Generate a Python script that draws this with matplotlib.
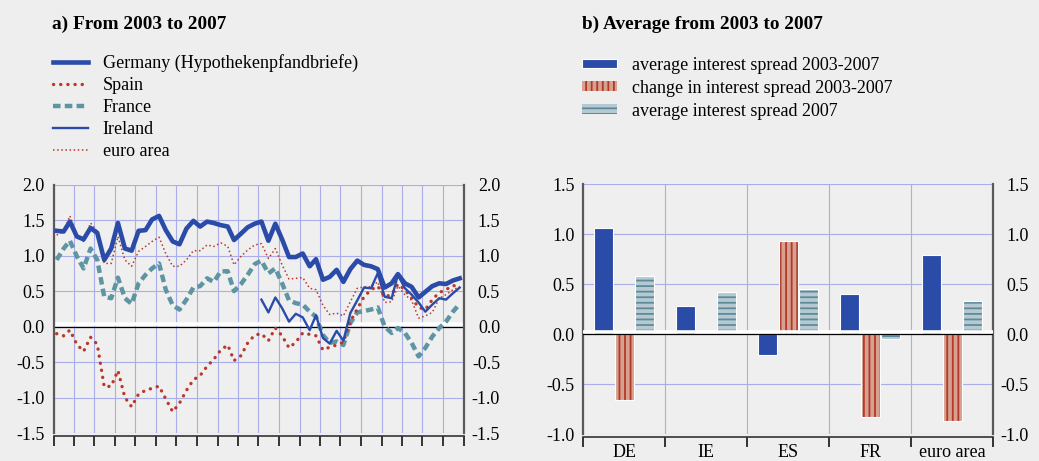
import numpy as np
import pandas as pd
import matplotlib
matplotlib.use("Agg")
import matplotlib.pyplot as plt
import matplotlib.dates as mdates
import matplotlib.transforms as mtransforms
from matplotlib.ticker import FixedLocator, NullFormatter, FixedFormatter

plt.rcParams['font.family'] = ['Liberation Serif', 'DejaVu Serif']
plt.rcParams['axes.unicode_minus'] = False
plt.rcParams['hatch.linewidth'] = 1.3

# ---------------------------------------------------------------- data
months = pd.date_range("2003-01-01", periods=60, freq="MS") + pd.Timedelta(days=14)

germany = [1.35, 1.34, 1.48, 1.27, 1.23, 1.39, 1.32, 0.94, 1.10, 1.46,
           1.10, 1.07, 1.35, 1.36, 1.51, 1.56, 1.36, 1.20, 1.16, 1.38,
           1.49, 1.41, 1.48, 1.46, 1.43, 1.41, 1.22, 1.31, 1.40, 1.45,
           1.48, 1.21, 1.45, 1.23, 0.98, 0.98, 1.03, 0.85, 0.95, 0.66,
           0.70, 0.80, 0.63, 0.81, 0.93, 0.87, 0.85, 0.81, 0.55, 0.61,
           0.74, 0.61, 0.56, 0.41, 0.49, 0.57, 0.61, 0.60, 0.65, 0.68]

spain = [-0.10, -0.13, -0.05, -0.25, -0.35, -0.15, -0.25, -0.85, -0.84, -0.62,
         -1.00, -1.13, -0.95, -0.90, -0.87, -0.84, -1.02, -1.20, -1.08, -0.90,
         -0.75, -0.69, -0.56, -0.46, -0.33, -0.26, -0.48, -0.41, -0.23, -0.12,
         -0.10, -0.20, -0.02, -0.13, -0.30, -0.22, -0.09, -0.11, -0.13, -0.33,
         -0.29, -0.26, -0.22, 0.07, 0.25, 0.42, 0.52, 0.57, 0.42, 0.45,
         0.60, 0.52, 0.40, 0.27, 0.24, 0.38, 0.48, 0.52, 0.58, 0.56]

france = [0.94, 1.10, 1.21, 0.99, 0.82, 1.10, 0.94, 0.42, 0.40, 0.69,
          0.40, 0.32, 0.61, 0.73, 0.82, 0.89, 0.52, 0.30, 0.24, 0.38,
          0.55, 0.57, 0.68, 0.63, 0.78, 0.78, 0.50, 0.60, 0.73, 0.88,
          0.93, 0.75, 0.82, 0.61, 0.37, 0.33, 0.31, 0.21, 0.14, -0.12,
          -0.23, -0.21, -0.26, 0.05, 0.20, 0.22, 0.24, 0.27, 0.00, -0.09,
          -0.02, -0.09, -0.23, -0.42, -0.30, -0.14, -0.02, 0.07, 0.21, 0.32]

ireland = [np.nan] * 30 + [
          0.38, 0.20, 0.41, 0.26, 0.07, 0.18, 0.13, -0.05, 0.16, -0.16,
          -0.24, -0.06, -0.20, 0.19, 0.37, 0.55, 0.54, 0.75, 0.42, 0.40,
          0.73, 0.54, 0.45, 0.34, 0.21, 0.31, 0.40, 0.38, 0.47, 0.55]

euro_area = [1.29, 1.34, 1.56, 1.29, 1.20, 1.46, 1.34, 0.89, 0.89, 1.27,
             0.94, 0.85, 1.06, 1.13, 1.20, 1.26, 1.03, 0.85, 0.85, 0.94,
             1.07, 1.07, 1.15, 1.13, 1.18, 1.13, 0.87, 0.99, 1.08, 1.15,
             1.17, 0.96, 1.10, 0.87, 0.67, 0.68, 0.69, 0.54, 0.52, 0.30,
             0.17, 0.19, 0.15, 0.35, 0.54, 0.56, 0.56, 0.63, 0.34, 0.35,
             0.57, 0.45, 0.37, 0.12, 0.15, 0.20, 0.40, 0.45, 0.52, 0.56]

categories = ["DE", "IE", "ES", "FR", "euro area"]
avg_spread_2003_2007 = [1.06, 0.28, -0.21, 0.40, 0.79]
change_spread_2003_2007 = [-0.66, 0.0, 0.93, -0.83, -0.87]
avg_spread_2007 = [0.58, 0.42, 0.45, -0.05, 0.33]

left_ticks = [-1.5, -1.0, -0.5, 0.0, 0.5, 1.0, 1.5, 2.0]
right_ticks = [-1.0, -0.5, 0.0, 0.5, 1.0, 1.5]

# ---------------------------------------------------------------- style
BG = '#eeeeee'
GRID = '#a9aee8'
SPINE = '#5a5a5a'
BLUE = '#2b4ba8'
RED = '#b8392b'
TEAL = '#5e95a3'
SALMON = '#d6a18e'
STRIPE_RED = '#b3382a'
PALE_TEAL = '#b6c9d1'
LINE_TEAL = '#5d8b9b'
FS = 13

fig = plt.figure(figsize=(10.39, 4.61), dpi=100, facecolor=BG)
W, H = 1039.0, 461.0
ax1 = fig.add_axes([53.5 / W, 28 / H, 410 / W, 248.3 / H])
ax2 = fig.add_axes([583.3 / W, 27 / H, 410 / W, 249.5 / H])


def frame(ax, ticks, left_pad, right_pad, zero_z):
    ax.set_facecolor('#efefef')
    ax.spines['top'].set_visible(False)
    for side in ('left', 'right'):
        ax.spines[side].set_color(SPINE)
        ax.spines[side].set_linewidth(1.6)
    ax.spines['bottom'].set_position(('outward', 2))
    ax.spines['bottom'].set_color('#333333')
    ax.spines['bottom'].set_linewidth(1.2)
    ax.set_yticks(ticks)
    ax.set_yticklabels([f"{t:.1f}" for t in ticks])
    ax.tick_params(axis='y', length=0, labelsize=FS, pad=left_pad)
    ax.grid(True, which='major', color=GRID, lw=0.8)
    ax.set_axisbelow(True)
    ax.tick_params(axis='x', which='major', direction='out', length=7,
                   width=1.4, color='#333333', labelbottom=False)
    ax.tick_params(axis='x', which='minor', length=0, labelsize=FS, pad=5.5)
    tw = ax.twinx()
    tw.set_ylim(ax.get_ylim())
    tw.set_yticks(ticks)
    tw.set_yticklabels([f"{t:.1f}" for t in ticks], ha='right')
    tw.tick_params(axis='y', length=0, labelsize=FS, pad=right_pad)
    for s in tw.spines.values():
        s.set_visible(False)
    # zero line: white band with a thin black rule underneath
    band = ax.axhline(0, color='white', lw=2.6, zorder=zero_z)
    band.set_transform(band.get_transform() +
                       mtransforms.ScaledTranslation(0, 1.6 / 72, fig.dpi_scale_trans))
    ax.axhline(0, color='black', lw=0.9, zorder=zero_z + 0.1)


# ---------------------------------------------------------------- panel a
ax1.set_xlim(pd.Timestamp("2003-01-01"), pd.Timestamp("2008-01-01"))
ax1.set_ylim(-1.5, 2.0)
frame(ax1, left_ticks, 6.5, 26.3, 1.5)
ax1.xaxis.set_major_locator(mdates.MonthLocator(bymonth=[1, 4, 7, 10]))
ax1.xaxis.set_major_formatter(NullFormatter())
ax1.xaxis.set_minor_locator(mdates.MonthLocator(bymonth=[7]))
ax1.xaxis.set_minor_formatter(mdates.DateFormatter('%Y'))

l_fr, = ax1.plot(months, france, color=TEAL, lw=3.2, ls=(0, (1.7, 0.95)),
                 dash_capstyle='butt', label='France', zorder=3)
l_ea, = ax1.plot(months, euro_area, color=RED, lw=1.1, ls=(0, (1, 1.7)),
                 label='euro area', zorder=3)
l_es, = ax1.plot(months, spain, color=RED, lw=2.4, ls=(0, (0.05, 2.1)),
                 dash_capstyle='round', label='Spain', zorder=3)
l_ie, = ax1.plot(months, ireland, color=BLUE, lw=1.7, label='Ireland', zorder=4)
l_de, = ax1.plot(months, germany, color=BLUE, lw=3.3,
                 label='Germany (Hypothekenpfandbriefe)', zorder=5)

fig.text(52 / W, 1 - 29 / H, "a) From 2003 to 2007", fontsize=13.9,
         fontweight='bold', va='baseline', ha='left')
fig.legend([l_de, l_es, l_fr, l_ie, l_ea],
           [h.get_label() for h in (l_de, l_es, l_fr, l_ie, l_ea)],
           loc='upper left', bbox_to_anchor=(53 / W, 1 - 54.5 / H),
           frameon=False, fontsize=FS, handlelength=1.95, handletextpad=0.8,
           labelspacing=0.27, borderpad=0, borderaxespad=0)

# ---------------------------------------------------------------- panel b
x = np.arange(len(categories))
bw, off = 0.235, 0.25
ax2.set_xlim(-0.5, len(categories) - 0.5)
ax2.set_ylim(-1.0, 1.5)
frame(ax2, right_ticks, 6.0, 25.7, 3.5)
ax2.xaxis.set_major_locator(FixedLocator(np.arange(len(categories) + 1) - 0.5))
ax2.xaxis.set_major_formatter(NullFormatter())
ax2.xaxis.set_minor_locator(FixedLocator(x))
ax2.xaxis.set_minor_formatter(FixedFormatter(categories))

b_avg = ax2.bar(x - off, avg_spread_2003_2007, bw, color=BLUE,
                edgecolor='white', lw=0.8, zorder=3)
b_chg = ax2.bar(x, change_spread_2003_2007, bw, facecolor=SALMON,
                edgecolor=STRIPE_RED, hatch='|||', lw=0, zorder=3)
ax2.bar(x, change_spread_2003_2007, bw, fill=False, edgecolor='white',
        lw=0.8, zorder=3.1)
b_07 = ax2.bar(x + off, avg_spread_2007, bw, facecolor=PALE_TEAL,
               edgecolor=LINE_TEAL, hatch='---', lw=0, zorder=3)
ax2.bar(x + off, avg_spread_2007, bw, fill=False, edgecolor='white',
        lw=0.8, zorder=3.1)

fig.text(582 / W, 1 - 29 / H, "b) Average from 2003 to 2007", fontsize=13.9,
         fontweight='bold', va='baseline', ha='left')
fig.legend([b_avg, b_chg, b_07],
           ["average interest spread 2003-2007",
            "change in interest spread 2003-2007",
            "average interest spread 2007"],
           loc='upper left', bbox_to_anchor=(582 / W, 1 - 57 / H),
           frameon=False, fontsize=FS, handlelength=1.95, handleheight=0.45,
           handletextpad=0.8, labelspacing=0.32, borderpad=0, borderaxespad=0)

fig.savefig("out.png", dpi=100, facecolor=BG)
